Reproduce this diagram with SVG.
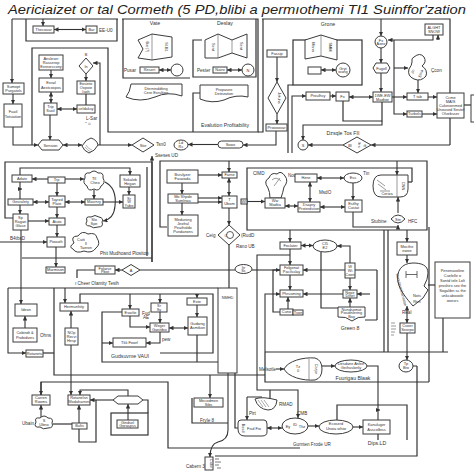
<svg xmlns="http://www.w3.org/2000/svg" width="474" height="474" viewBox="0 0 474 474">
<defs>
<marker id="a" viewBox="0 0 6 6" refX="6" refY="3" markerWidth="4.5" markerHeight="4.5" markerUnits="userSpaceOnUse" orient="auto-start-reverse"><path d="M0,0L6,3L0,6z" fill="#333"/></marker>
<style>
.bx{fill:#fff;stroke:#3c3c3c;stroke-width:1}
.ln{fill:none;stroke:#333;stroke-width:1.2}
.ar{fill:none;stroke:#333;stroke-width:1.1;marker-end:url(#a)}
.da{fill:none;stroke:#333;stroke-width:1.1;marker-end:url(#a);marker-start:url(#a)}
text{font-family:"Liberation Sans",Arial,sans-serif;fill:#333}
.t{font-size:3.9px;text-anchor:middle}
.lb{font-size:4.6px}
.lc{font-size:5.2px;text-anchor:middle}
.ti{font-size:13.5px;font-style:italic;fill:#222}
</style>
</defs>
<rect width="474" height="474" fill="#fff"/>
<text class="ti" x="237" y="14" text-anchor="middle" textLength="458" lengthAdjust="spacingAndGlyphs">Aericiaizet or tal Cormeth (5 PD,blibi a permıothemi TI1 Suinffor'zation</text>

<g id="frames">
<path class="ln" d="M12,19H118M26,19V41H117V19"/>
<path class="ln" d="M122,19H258V132H108V48H32V145"/>
<path class="ln" d="M123,19V78H190"/>
<path class="ln" d="M202,40H193V77H256V19"/>
<path class="ln" d="M193,132V93H200"/>
<path class="ln" d="M262,19H450V145"/>
<path class="ln" d="M263,19V132H258"/>
<rect x="293" y="40" width="69" height="45" fill="none" stroke="#333" stroke-width="1.2"/>
<path class="ln" d="M288,153V85H293"/>
<path class="ln" d="M13,218H5V162H152V262"/>
<path class="ln" d="M167,227H160V161H427V230H247V168H412V182"/>
<path class="ln" d="M147,167V256M22,258H152"/>
<path class="ln" d="M377,270V320M384,230V352M388,230V352M429,227V382"/>
<path class="ln" d="M265,352H448M265,352V382H429M443,318V352"/>
<path class="ln" d="M337,420V405H407V440"/>
<path class="ln" d="M417,366V456H215M413,366H417"/>
<path class="ln" d="M41,395V382H168V448H300"/>
<path class="ln" d="M54,288V375H265"/>
<path class="ln" d="M80,303V294H213V353H160"/>
<path class="ln" d="M102,343V362H218"/>
</g>

<g id="connectors">
<path class="ar" d="M43,19V26"/>
<path class="da" d="M54,29.5H86"/>
<path class="ar" d="M12,19V83"/>
<path class="ar" d="M13,94V104"/>
<path class="ar" d="M13,127V145H38"/>
<path class="ar" d="M51,70V78"/>
<path class="da" d="M51,92V103"/>
<path class="ar" d="M50,115V140"/>
<path class="da" d="M57,109H77"/>
<path class="ar" d="M86,74V81"/>
<path class="ln" d="M86,94V105"/>
<path class="ar" d="M100,145V63H93"/>
<path class="da" d="M63,145H82"/>
<path class="ar" d="M98,145H132"/>
<path class="ar" d="M218,144.5H188"/>
<path class="ar" d="M276,131V145H243"/>
<path class="da" d="M159,70H171"/>
<path class="da" d="M227,70H242"/>
<path class="ar" d="M277,57V82"/>
<path class="ar" d="M277,114V124"/>
<path class="da" d="M321,70H336"/>
<path class="ar" d="M381,19V36"/>
<path class="ar" d="M381,48V63"/>
<path class="ar" d="M381,73V92"/>
<path class="ar" d="M292,153V96H306"/>
<path class="ar" d="M330,96H336"/>
<path class="da" d="M349,97H373"/>
<path class="ar" d="M438,40V35"/>
<path class="ar" d="M433,35V40H388"/>
<path class="ar" d="M394,40V114H407"/>
<path class="ar" d="M394,68H408"/>
<path class="ar" d="M418,80V93"/>
<path class="ar" d="M392,97H407"/>
<path class="ar" d="M428,97H437"/>
<path class="ar" d="M422,114H437"/>
<path class="ln" d="M464,105H471"/>
<path class="ln" d="M343,101V121H382V102"/>
<path class="ar" d="M382,121V125H303V140"/>
<path class="ar" d="M343,145H308"/>
<path class="ar" d="M450,145H371"/>
<path class="ar" d="M152,262V156"/>
<path class="ar" d="M20,175V168H130V175"/>
<path class="ar" d="M48,179H32"/>
<path class="ar" d="M65,179H84"/>
<path class="ar" d="M20,182V199M18,189H22"/>
<path class="da" d="M33,202H49"/>
<path class="ar" d="M57,183V196"/>
<path class="da" d="M65,202H85"/>
<path class="ar" d="M94,190V199"/>
<path class="ar" d="M103,202H123"/>
<path class="ar" d="M129,187V195"/>
<path class="ar" d="M20,205V214"/>
<path class="ar" d="M28,221H49"/>
<path class="ar" d="M57,207V218"/>
<path class="ar" d="M57,225V237"/>
<path class="ar" d="M0,242H47"/>
<path class="ar" d="M56,247V267"/>
<path class="ar" d="M105,182Q117,188 115,206Q114,219 103,221"/>
<path class="ar" d="M122,270H115"/>
<path class="ln" d="M95,270H77V278"/>
<path class="ln" d="M140,270H235"/>
<path class="ar" d="M252,270H280"/>
<path class="ar" d="M21,230V304"/>
<path class="ar" d="M229,161V172"/>
<path class="ar" d="M198,175H222"/>
<path class="ar" d="M198,198H222"/>
<path class="ar" d="M198,202H222"/>
<path class="da" d="M229,178V196"/>
<path class="ar" d="M182,183V194"/>
<path class="ar" d="M182,203V215"/>
<path class="ar" d="M229,208V225"/>
<path class="ln" d="M229,245V288"/>
<path class="ar" d="M247,201.5H265"/>
<path class="da" d="M285,206H298"/>
<path class="da" d="M310,182V202"/>
<path class="da" d="M317,178H344"/>
<path class="da" d="M320,207H345"/>
<path class="ar" d="M353,183V200"/>
<path class="ar" d="M353,212V227H398V225"/>
<path class="ar" d="M398,213V197"/>
<path class="ar" d="M397,161V175"/>
<path class="ln" d="M408,182H412"/>
<path class="ar" d="M407,230V242"/>
<path class="ar" d="M407,255V263"/>
<path class="da" d="M407,323V306"/>
<path class="ln" d="M428,285H435"/>
<path class="ar" d="M407,333V360"/>
<path class="ar" d="M290,230V242"/>
<path class="da" d="M301,245.5H313"/>
<path class="ar" d="M290,249V265"/>
<path class="ar" d="M290,275V290"/>
<path class="ar" d="M288,309V297"/>
<path class="ln" d="M280,270H273V312H280"/>
<path class="ar" d="M265,352V294H280"/>
<path class="ar" d="M290,255H257V390H298V418"/>
<path class="ar" d="M350,263V246H337"/>
<path class="ar" d="M345,270H303"/>
<path class="ln" d="M355,270H377M377,320H365"/>
<path class="ar" d="M350,278V290"/>
<path class="ar" d="M343,294H303"/>
<path class="ar" d="M370,294H357"/>
<path class="ar" d="M350,307V298"/>
<path class="ln" d="M321,252V308H338"/>
<path class="ar" d="M276,369H284"/>
<path class="ar" d="M322,366H335"/>
<path class="ar" d="M367,366H378V420M376,410H380"/>
<path class="da" d="M267,428H282"/>
<path class="ar" d="M308,426H319"/>
<path class="ar" d="M353,427H363"/>
<path class="ln" d="M378,434V440"/>
<path class="ar" d="M247,397V420"/>
<path class="ln" d="M247,397H262M270,390V399"/>
<path class="ar" d="M210,375V398"/>
<path class="ar" d="M228,373V430Q228,440 218,442Q210,444 210,457"/>
<path class="ln" d="M235,373V428H238"/>
<path class="ln" d="M192,398V423H228"/>
<path class="ar" d="M25,328V316"/>
<path class="ar" d="M8,288V353H26"/>
<path class="ln" d="M8,288H218"/>
<path class="ln" d="M43,353H54"/>
<path class="ar" d="M71,328V311"/>
<path class="ar" d="M71,345V395"/>
<path class="ar" d="M41,382V395"/>
<path class="ar" d="M128,396V390H80V395"/>
<path class="ar" d="M113,400H90"/>
<path class="ar" d="M128,420V404"/>
<path class="ln" d="M143,400H148V413"/>
<path class="ar" d="M79,423V405"/>
<path class="ln" d="M53,424H72"/>
<path class="ar" d="M41,417V405"/>
<path class="ln" d="M79,429V442H96V400"/>
<path class="ar" d="M65,288V303"/>
<path class="ar" d="M130,294V309"/>
<path class="ar" d="M160,294V303"/>
<path class="ar" d="M197,294V298"/>
<path class="ar" d="M102,343H113"/>
<path class="ln" d="M102,343V312H122"/>
<path class="ar" d="M130,316V327H150"/>
<path class="ar" d="M160,312V323"/>
<path class="da" d="M169,328H188"/>
<path class="ar" d="M197,305V317"/>
<path class="ar" d="M160,332V343H146"/>
<path class="ln" d="M197,335V362"/>
</g>

<g id="n-thecouar"><rect class="bx" x="33" y="26" width="21" height="7"/><text class="t" x="43.5" y="31">Thecouar</text></g>
<g id="n-bar"><rect class="bx" x="86" y="26" width="11" height="7"/><text class="t" x="91.5" y="31">Bar</text><text class="lb" x="99" y="31.5" font-size="4">EE-U0</text></g>
<g id="n-sumopt"><rect class="bx" x="3" y="83" width="21" height="11"/><text class="t" x="13.5" y="88">Sumopt</text><text class="t" x="13.5" y="92.3">Purgatols</text></g>
<g id="n-fuatl"><rect class="bx" x="4" y="104" width="18" height="23"/><text class="t" x="13" y="113">Fuatl</text><text class="t" x="13" y="117.5">Totsiation</text></g>
<g id="n-ansleser"><rect class="bx" x="39" y="55" width="24" height="15"/><text class="t" x="51" y="59.5">Ansleser</text><text class="t" x="51" y="63.5">Rasserop</text><text class="t" x="51" y="67.5">Exreorccony</text></g>
<g id="n-exrail"><rect class="bx" x="39" y="78" width="24" height="14"/><text class="t" x="51" y="84">Exrail</text><text class="t" x="51" y="88.5">Aextcoxpos</text></g>
<g id="n-trip"><rect class="bx" x="44" y="103" width="13" height="12"/><text class="t" x="50.5" y="108">Trip</text><text class="t" x="50.5" y="112.3">Suxil</text></g>
<g id="n-celdaksy"><rect class="bx" x="77" y="105" width="18" height="8"/><text class="t" x="86" y="110.3">celdaksy</text><text class="lb" x="86" y="120" font-size="3.4">L-Sar</text><text class="lb" x="85" y="125" font-size="3.4">ᵔ ⌂</text></g>
<g id="n-eosinte"><rect class="bx" x="77" y="81" width="18" height="13"/><text class="t" x="86" y="85">Eosinte</text><text class="t" x="86" y="88.8">Oxpoie</text><text class="t" x="86" y="92.5">Isoh</text></g>
<g id="n-in"><polygon class="bx" points="86,58 93,66 86,74 79,66"/><text class="t" x="86" y="67.5">In</text><text class="t" x="86" y="56">B</text></g>
<g id="n-sension"><polygon class="bx" points="38,145 42,140 59,140 63,145 59,150 42,150"/><text class="t" x="50.5" y="146.5">Sension</text></g>
<g id="n-wavy"><path class="bx" d="M82,146Q86,139 91,138Q97,140 98,145Q95,151 89,153Q84,151 82,146Z"/><path fill="none" stroke="#666" stroke-width="0.5" d="M86,145Q88,149 92,150M85,147Q88,151 91,152"/></g>
<g id="n-stie"><polygon class="bx" points="132,145 143,138 154,145 143,152"/><text class="t" x="143" y="146.5">Stie</text><text class="lb" x="156" y="145.5" font-size="4.2">Tsn0</text><text class="lb" x="155" y="157" font-size="4.2">Sseses UD</text></g>
<g id="n-ldrc"><ellipse class="bx" cx="181" cy="145" rx="7" ry="5"/><text class="t" x="181" y="144">Ld</text><text class="t" x="181" y="148">Rc</text></g>
<g id="n-sowx"><rect class="bx" x="218" y="141" width="25" height="7" rx="3.5"/><text class="t" x="230.5" y="146">Sowx</text></g>

<g id="n-vate"><text class="lc" x="155" y="25">Vate</text><path class="bx" d="M138,40L152,34L172,37L172,57L152,60L138,58L143,49Z"/><path fill="none" stroke="#555" stroke-width="0.6" d="M152,34V60"/><text class="t" transform="translate(146,47) rotate(90)">Bar(7)</text><text class="t" transform="translate(165,47) rotate(90)">Sl.B1</text><text class="lb" x="124" y="71.5" font-size="4.2">Pusar</text><rect class="bx" x="140" y="67" width="19" height="6"/><text class="t" x="149.5" y="71.2">Resert</text><circle class="bx" cx="177" cy="70" r="6"/></g>
<g id="n-dterm"><path class="bx" d="M131,84H182V96Q168,91 155,97Q140,103 126,97Q130,92 131,84Z"/><text class="t" x="156" y="89.5">Dterninddting</text><text class="t" x="156" y="94">Cere Exrultion</text></g>
<g id="n-deslay"><text class="lc" x="225" y="25">Deslay</text><path class="bx" d="M205,40L218,34L232,40L247,34L247,58L232,53L218,58L205,58Z"/><path fill="none" stroke="#555" stroke-width="0.6" d="M218,34V58M232,40V53"/><text class="t" transform="translate(212,47) rotate(90)">Sent</text><text class="t" transform="translate(240,46) rotate(90)">Sent</text><text class="lb" x="197" y="71.5" font-size="4.2">Pester</text><rect class="bx" x="213" y="67" width="14" height="6"/><text class="t" x="220" y="71.2">Nairo</text><circle class="bx" cx="248" cy="70" r="6"/><text class="t" x="248" y="71.5">N</text></g>
<g id="n-propasee"><path class="bx" d="M200,85H248V97Q236,94 224,100Q212,104 200,99Z"/><text class="t" x="224" y="90.5">Propasee</text><text class="t" x="224" y="95">Detezation</text></g>
<text class="lc" x="225" y="127" font-size="5.3">Evalution Profitability</text>
<g id="n-fassip"><rect class="bx" x="267" y="50" width="20" height="7"/><text class="t" x="277" y="55">Fassip</text></g>
<g id="n-jetuhs"><polygon class="bx" points="277,82 286,98 277,114 268,98"/><text class="t" transform="translate(278,98) rotate(90)">Jetuhs</text></g>
<g id="n-proooovar"><rect class="bx" x="266" y="124" width="21" height="7"/><text class="t" x="276.5" y="129">Proooovar</text></g>
<g id="n-grone"><text class="lc" x="328" y="26">Grone</text><path class="bx" d="M305,40L321,35L337,40L337,60L321,56L305,59Z"/><path fill="none" stroke="#555" stroke-width="0.6" d="M321,35V56"/><text class="t" transform="translate(312,47) rotate(90)">Mann</text><text class="t" transform="translate(329,47) rotate(90)">SMM</text><rect class="bx" x="308" y="67" width="13" height="7"/><circle class="bx" cx="343" cy="70" r="7"/><text class="t" x="343" y="69.5">Gryt</text><text class="t" x="343" y="73">wang</text></g>
<g id="n-alght"><rect class="bx" x="425" y="24" width="18" height="11"/><text class="t" x="434" y="28.6" font-size="3.3">ALGHT</text><text class="t" x="434" y="33" font-size="3.3">SNOW</text></g>
<g id="n-fxaxeo"><circle class="bx" cx="381" cy="42" r="6"/><text class="t" x="381" y="41.5">Fx</text><text class="t" x="381" y="45">Axeo</text></g>
<g id="n-fugell"><polygon class="bx" points="373,68 376,63 387,63 390,68 387,73 376,73"/><text class="t" x="381.5" y="69.5">Fugell</text></g>
<g id="n-madre"><rect class="bx" x="373" y="92" width="19" height="10"/><text class="t" x="382.5" y="96.5">1WE-EW</text><text class="t" x="382.5" y="100.5">Madtoe</text></g>
<g id="n-proulhcy"><rect class="bx" x="306" y="92" width="24" height="8"/><text class="t" x="318" y="97.3">Proulhcy</text></g>
<g id="n-fx"><rect class="bx" x="336" y="92" width="13" height="9"/><text class="t" x="342.5" y="97.8">Fx</text></g>
<g id="n-ceon"><path class="bx" d="M414,57Q420,52 424,57Q427,62 422,66Q428,70 426,76Q421,82 414,79Q407,76 409,69Q412,65 412,62Q411,58 414,57Z"/><text class="t" transform="translate(414,72) rotate(-70)">Jn</text><text class="t" transform="translate(422,74) rotate(-70)">Ehia</text><text class="lb" x="431" y="72" font-size="5">Çcon</text></g>
<g id="n-ttab"><rect class="bx" x="407" y="93" width="21" height="7"/><text class="t" x="417.5" y="98">T tab</text></g>
<g id="n-turbels"><rect class="bx" x="407" y="111" width="15" height="6"/><text class="t" x="414.5" y="115.3">Turbels</text></g>
<g id="n-ccme"><rect class="bx" x="437" y="93" width="27" height="25"/><text class="t" x="450.5" y="98.5">Ccme</text><text class="t" x="450.5" y="102.5">MAIS</text><text class="t" x="450.5" y="106.5">Cukevonmed</text><text class="t" x="450.5" y="110.5">Unouved Sestef</text><text class="t" x="450.5" y="114.5">Olvebsser</text></g>
<g id="n-edge"><rect class="bx" x="471" y="95" width="8" height="27"/></g>
<g id="n-s"><circle class="bx" cx="303" cy="145" r="5"/><text class="t" x="303" y="146.5">S</text></g>
<g id="n-dzeqte"><polygon class="bx" points="343,145 357,137 371,145 357,153"/><text class="t" x="350" y="146.5" font-size="3.2">Bl</text><text class="t" transform="translate(358,145) rotate(90)" font-size="3.2">ltrs</text><text class="t" x="365" y="146.5" font-size="3.2">ilt</text><text class="lc" x="343" y="134.5" font-size="4.3">Dzsqle Tos FII</text></g>

<g id="n-adate"><rect class="bx" x="12" y="175" width="20" height="7"/><text class="t" x="22" y="180">Adate</text></g>
<g id="n-trp"><rect class="bx" x="48" y="177" width="17" height="6"/><text class="t" x="56.5" y="181.3">Trp</text></g>
<g id="n-cllcheo"><path class="bx" d="M85,178Q84,172 90,173Q94,169 98,173Q104,172 103,178Q106,183 101,186Q99,192 94,189Q88,192 87,186Q82,183 85,178Z"/><text class="t" x="94" y="180">Tll</text><text class="t" x="95" y="184">Cheo</text></g>
<g id="n-sokaleb"><rect class="bx" x="120" y="175" width="20" height="12"/><text class="t" x="130" y="180.5">Sokaleb</text><text class="t" x="130" y="184.5">Hegan</text></g>
<g id="n-gesralety"><rect class="bx" x="8" y="199" width="25" height="6"/><text class="t" x="20.5" y="203.3">Gesralety</text></g>
<g id="n-tayrzd"><rect class="bx" x="49" y="196" width="16" height="11"/><text class="t" x="57" y="200.5">Tayrzd</text><text class="t" x="57" y="204.5">Plate</text></g>
<g id="n-masrnry"><rect class="bx" x="85" y="199" width="18" height="6"/><text class="t" x="94" y="203.3">Masrnry</text></g>
<g id="n-shr"><rect class="bx" x="123" y="195" width="12" height="13"/><text class="t" x="129" y="199.5">Sr</text><text class="t" x="129" y="203">W</text><text class="t" x="129" y="206.5">Yubo</text></g>
<g id="n-sp"><rect class="bx" x="13" y="214" width="15" height="16"/><text class="t" x="20.5" y="219">Sp</text><text class="t" x="20.5" y="223">Ragan</text><text class="t" x="20.5" y="227">Glase</text><text class="lb" x="10" y="239.5" font-size="4.3">B4tbsD</text></g>
<g id="n-atuto"><rect class="bx" x="49" y="218" width="16" height="7"/><text class="t" x="57" y="222.8">Atuto</text></g>
<g id="n-piooath"><rect class="bx" x="47" y="237" width="18" height="10"/><text class="t" x="56" y="243.3">Piooath</text></g>
<g id="n-slospe"><path class="bx" d="M87,221Q85,216 91,217Q95,214 99,217Q104,218 102,222Q104,227 98,227Q93,229 90,226Q84,226 87,221Z"/><text class="t" x="94" y="221">Slo</text><text class="t" x="94" y="225">Spe</text></g>
<g id="n-cuiti"><path class="bx" d="M74,243Q70,236 78,236Q82,230 88,234Q96,232 97,238Q101,244 96,248Q92,254 84,251Q76,254 73,249Q68,247 74,243Z"/><text class="t" x="81" y="240.5">Cuiti</text><text class="t" x="86" y="245">Il</text><text class="t" x="86" y="249">Taeron</text><text class="lb" x="100" y="254.5" font-size="4.3">Phit Mudhoand Plositon</text></g>
<g id="n-marmison"><rect class="bx" x="46" y="267" width="19" height="6"/><text class="t" x="55.5" y="271.3">Marmison</text></g>
<g id="n-folarse"><rect class="bx" x="95" y="266" width="20" height="8"/><text class="t" x="105" y="269.5">Folarse</text><text class="t" x="105" y="273">Pbot</text><text class="lb" x="75" y="284.5" font-size="4.3">ı Cheer Olamity Tesih</text></g>
<g id="n-a"><polygon class="bx" points="122,270 131,264.5 140,270 131,275.5"/><text class="t" x="131" y="271.5">A</text></g>

<g id="n-bsrulyzer"><rect class="bx" x="167" y="170" width="31" height="13"/><text class="t" x="182.5" y="175.5">Bsrulyzer</text><text class="t" x="182.5" y="179.5">Fasowda</text></g>
<g id="n-farne"><rect class="bx" x="222" y="172" width="15" height="6"/><text class="t" x="229.5" y="176.3">Farne</text></g>
<g id="n-moshpde"><rect class="bx" x="168" y="194" width="30" height="9"/><text class="t" x="183" y="198">Mo Shpde</text><text class="t" x="183" y="201.5">Sumlnoa</text></g>
<g id="n-tubom"><rect class="bx" x="222" y="196" width="15" height="12"/><text class="t" x="229.5" y="201">T</text><text class="t" x="229.5" y="205">Ubom</text></g>
<g id="n-meduning"><rect class="bx" x="168" y="215" width="30" height="21"/><text class="t" x="183" y="221">Meduning</text><text class="t" x="183" y="225">Jeofral</text><text class="t" x="183" y="229">Peatholdo</text><text class="t" x="183" y="233">Pundanons</text></g>
<g id="n-ceig"><polygon class="bx" points="229,225 240,235 229,245 218,235"/><circle fill="none" stroke="#333" stroke-width="0.8" cx="230" cy="235" r="3.5"/><text class="t" x="226" y="236.5">C</text><text class="lb" x="206" y="237" font-size="4.3">Ceig</text><text class="lb" x="241" y="237" font-size="4.3">(RudD</text><text class="lb" x="236" y="248" font-size="4.3">Rano UB</text></g>
<g id="n-itrsc"><ellipse class="bx" cx="243.5" cy="269" rx="8.5" ry="4.5"/><text class="t" x="243.5" y="268.5">Itr</text><text class="t" x="243.5" y="272">Sc</text></g>

<g id="n-wi"><rect class="bx" x="241" y="199" width="6" height="5"/><text class="t" x="244" y="202.8" font-size="3">WI</text></g>
<g id="n-cmd"><path class="bx" d="M268,188Q263,181 269,178Q271,172 277,174Q281,170 285,176Q289,181 284,187Q283,192 281,198H270Q270,192 268,188Z"/><path fill="none" stroke="#555" stroke-width="0.6" d="M272,180Q276,176 281,181M274,186L280,178"/><text class="lb" x="253" y="175" font-size="4.3">ClMD</text><text class="lb" x="288" y="177" font-size="4">Noon</text></g>
<g id="n-wwmadtia"><rect class="bx" x="265" y="198" width="20" height="10"/><text class="t" x="275" y="202.3">Ww</text><text class="t" x="275" y="206.3">Madtia</text></g>
<g id="n-dsapry"><rect class="bx" x="298" y="202" width="22" height="10"/><text class="t" x="309" y="206.3">Dsapry</text><text class="t" x="309" y="210.3">Proterdstion</text></g>
<g id="n-hzne"><rect class="bx" x="295" y="174" width="22" height="8"/><text class="t" x="306" y="179.3">Hzne</text></g>
<g id="n-ess"><ellipse class="bx" cx="353" cy="178" rx="9" ry="5"/><text class="t" x="353" y="179.3">Ess</text><text class="lb" x="363" y="175" font-size="4.3">Tin</text><text class="lb" x="319" y="194" font-size="4.3">MsdO</text></g>
<g id="n-estlhy"><rect class="bx" x="345" y="200" width="17" height="12"/><text class="t" x="353.5" y="205">Estlhy</text><text class="t" x="353.5" y="209">Custat</text></g>
<g id="n-cnn"><path class="bx" d="M381,175H408V189Q408,197 400,197H381Q373,197 373,186Q373,175 381,175Z"/><path fill="none" stroke="#555" stroke-width="0.6" d="M397,175V197M377,180L385,186M378,184L386,190M380,191H390"/><text class="t" transform="translate(402,186) rotate(90)" font-size="3.2">CNN</text><text class="t" x="387" y="195" font-size="3">Ceriza</text></g>
<g id="n-ste"><path class="bx" d="M391,219Q398,211 405,219Q398,227 391,219Z"/><text class="t" x="398" y="220.5" font-size="3.3">Ste</text><text class="lb" x="371" y="223" font-size="4.3">Stubine</text><text class="lb" x="408" y="223" font-size="4.3">HFC</text></g>

<g id="n-mocthe"><rect class="bx" x="397" y="242" width="20" height="13"/><text class="t" x="407" y="248">Mocthe</text><text class="t" x="407" y="252" font-size="2.8">ewoe</text></g>
<g id="n-real"><path class="bx" d="M413,263C401,263 396,272 398,282C400,291 407,299 413,306L418,302L423,298L428,290L424,286Q428,279 428,273C428,265 421,263 413,263Z"/><path fill="none" stroke="#444" stroke-width="0.8" d="M406,271V278M406,274.5H417M417,271V278"/><text class="t" x="417" y="297" font-size="3">Nots</text><text class="t" x="417" y="303" font-size="3">Rtrn</text><text class="t" transform="translate(400,290) rotate(75)" font-size="2.8">Nonuliparoloinsabe</text><text class="lb" x="402" y="314" font-size="4.5">Real</text></g>
<g id="n-cvoer"><rect class="bx" x="400" y="323" width="15" height="10"/><text class="t" x="407.5" y="327.3">Cvoer</text><text class="t" x="407.5" y="331.3">Seorpo</text><path fill="none" stroke="#555" stroke-width="0.6" d="M391,323H395M391,326H396M391,329H396M391,332H395M391,335H394"/></g>
<g id="n-pene"><rect class="bx" x="435" y="262" width="35" height="56"/><text class="t" x="452.5" y="272">Penenuvoline</text><text class="t" x="452.5" y="277">Cuelelle o</text><text class="t" x="452.5" y="282">Sontd tele Lolt</text><text class="t" x="452.5" y="287">proshirx sex the</text><text class="t" x="452.5" y="292">Sogalibn ss the</text><text class="t" x="452.5" y="297">unkcabooole</text><text class="t" x="452.5" y="302">ooesrs</text></g>

<g id="n-foclater"><rect class="bx" x="280" y="242" width="21" height="7"/><text class="t" x="290.5" y="247">Foclater</text></g>
<g id="n-cl5"><ellipse class="bx" cx="325" cy="246" rx="12" ry="6"/><text class="t" x="325" y="245">Cl5</text><text class="t" x="325" y="249">E2</text></g>
<g id="n-folgonat"><rect class="bx" x="280" y="265" width="23" height="10"/><text class="t" x="291.5" y="269.3">Folgonat</text><text class="t" x="291.5" y="273.3">Pacilsslay</text></g>
<g id="n-phrusming"><rect class="bx" x="280" y="290" width="23" height="7"/><text class="t" x="291.5" y="294.8">Phrusming</text></g>
<g id="n-cuno"><rect class="bx" x="280" y="309" width="13" height="6"/><text class="t" x="286.5" y="313.2">Cuno</text><rect class="bx" x="293" y="310" width="10" height="5"/><text class="t" x="298" y="313.7" font-size="3">Tvon</text></g>
<g id="n-wwicoon"><rect class="bx" x="345" y="263" width="10" height="15"/><text class="t" x="350" y="268">W</text><text class="t" x="350" y="272">Wi</text><text class="t" x="350" y="276">Coon</text></g>
<g id="n-nepir"><rect class="bx" x="343" y="290" width="14" height="8"/><text class="t" x="350" y="293.5">Nepir</text><text class="t" x="350" y="297">Dihet</text></g>
<g id="n-nundsomat"><path class="bx" d="M338,307H365V317Q358,316 352,321Q346,316 338,317Z"/><text class="t" x="351.5" y="310.5" font-size="3.3">Nundsomat</text><text class="t" x="351.5" y="314" font-size="3.3">Posidnlering</text><text class="t" x="351.5" y="317.5" font-size="3.3">Bay</text><text class="lc" x="350" y="330" font-size="4.5">Green 8</text></g>

<g id="n-ideon"><rect class="bx" x="15" y="304" width="22" height="12"/><text class="t" x="26" y="311.3">Ideon</text></g>
<g id="n-cobindt"><rect class="bx" x="13" y="328" width="24" height="14"/><text class="t" x="25" y="334">Cobindt &amp;</text><text class="t" x="25" y="338.5">Probidizes</text><text class="lb" x="40" y="337" font-size="4.3">Ohns</text></g>
<g id="n-rotanets"><rect class="bx" x="26" y="350" width="17" height="7"/><text class="t" x="34.5" y="354.8">Rotanets</text></g>
<g id="n-hermunhity"><rect class="bx" x="60" y="303" width="28" height="8"/><text class="t" x="74" y="308.3">Hermunhity</text></g>
<g id="n-nop"><rect class="bx" x="65" y="328" width="13" height="17"/><text class="t" x="71.5" y="333.5">NOp</text><text class="t" x="71.5" y="337.5">Recvi</text><text class="t" x="71.5" y="341.5">Hesp</text></g>
<g id="n-evarlie"><rect class="bx" x="122" y="309" width="17" height="7"/><text class="t" x="130.5" y="313.8">Evarlie</text><text class="lb" x="142" y="314.5" font-size="4">Fud</text><text class="lb" x="143" y="319" font-size="4">AE</text></g>
<g id="n-srsy"><rect class="bx" x="151" y="303" width="16" height="9"/><text class="t" x="159" y="307">Sr</text><text class="t" x="159" y="310.8">Sy</text></g>
<g id="n-exte"><rect class="bx" x="187" y="298" width="20" height="7"/><text class="t" x="197" y="302.8">Exte</text></g>
<g id="n-nmhd"><rect class="bx" x="218" y="288" width="19" height="85"/><text class="t" x="227.5" y="299">NMHD</text></g>
<g id="n-weger"><rect class="bx" x="150" y="323" width="19" height="9"/><text class="t" x="159.5" y="327">Weger</text><text class="t" x="159.5" y="330.8">Ganitibix</text></g>
<g id="n-gudwng"><rect class="bx" x="188" y="317" width="19" height="18"/><text class="t" x="197.5" y="325">Gudwng</text><text class="t" x="197.5" y="329">Asmtkon</text></g>
<g id="n-tkk"><rect class="bx" x="113" y="338" width="33" height="9"/><text class="t" x="129.5" y="344">Tkk Fowrl</text><text class="lb" x="162" y="341" font-size="4">pew</text><text class="lc" x="130" y="358" font-size="4.5">Gudsuvme VAUl</text></g>
<g id="n-carren"><rect class="bx" x="32" y="395" width="18" height="10"/><text class="t" x="41" y="399.3">Carren</text><text class="t" x="41" y="403.3">Rooms</text></g>
<g id="n-rotanelsn"><rect class="bx" x="68" y="395" width="22" height="10"/><text class="t" x="79" y="399.3">Rotanelsn</text><text class="t" x="79" y="403.3">Wodaharnes</text></g>
<g id="n-hexa"><polygon class="bx" points="113,400 118,396 138,396 143,400 138,404 118,404"/></g>
<g id="n-gindsel"><rect fill="none" stroke="#333" stroke-width="1.2" x="111" y="413" width="37" height="22"/><rect class="bx" x="117" y="420" width="21" height="8"/><text class="t" x="127.5" y="423.5">Gindsel</text><text class="t" x="127.5" y="427">Goraspss</text></g>
<g id="n-bults"><rect class="bx" x="72" y="423" width="15" height="6"/><text class="t" x="79.5" y="427.3">Bults</text></g>
<g id="n-ubain"><path class="bx" d="M36,422Q34,417 40,418Q44,414 48,418Q54,418 52,423Q54,428 48,428Q43,430 40,427Q33,428 36,422Z"/><text class="t" x="44" y="421.5" font-size="3.2">S</text><text class="t" x="44" y="425.5" font-size="3.2">Ubno</text><text class="lb" x="22" y="424.5" font-size="4.3">Ubain</text></g>
<g id="n-mecodmen"><rect class="bx" x="194" y="398" width="29" height="9"/><text class="t" x="208.5" y="402">Mecodmen</text><text class="t" x="208.5" y="405.8">Sibs</text><text class="lb" x="200" y="422" font-size="4.3">Fryle 8</text></g>
<g id="n-cabin"><rect class="bx" x="205" y="457" width="8" height="13"/><text class="t" transform="translate(210,463.5) rotate(90)" font-size="3">Cabe</text><text class="lb" x="186" y="468" font-size="4.3">Cabern 3</text><path fill="none" stroke="#444" stroke-width="0.7" d="M215,459H219M215,462H221M215,465H219M217,468H221"/></g>
<g id="n-egg"><path class="bx" d="M284,369C288,361 303,357 315,358Q322,360 322,369Q322,378 315,380C303,381 288,377 284,369Z"/><path fill="none" stroke="#555" stroke-width="0.6" d="M309,359V380"/><text class="t" x="298" y="368">Tz</text><text class="t" x="298" y="372">0</text><text class="t" transform="translate(315,369) rotate(90)" font-size="3">Carjor</text><text class="lb" x="259" y="371" font-size="4.3">Melsotle</text></g>
<g id="n-desdane"><ellipse class="bx" cx="351" cy="366" rx="16" ry="6"/><text class="t" x="351" y="365">Desdane Anlee</text><text class="t" x="351" y="369">Geihuslonly</text><text class="lc" x="353" y="379.5" font-size="4.5">Fuurigau Blaak</text></g>
<g id="n-tpbro"><ellipse class="bx" cx="406" cy="366" rx="7" ry="6"/><text class="t" x="406" y="365">Tp</text><text class="t" x="406" y="369">Bro</text></g>
<g id="n-kanuluger"><rect class="bx" x="363" y="420" width="27" height="14"/><text class="t" x="376.5" y="426">Kanuluger</text><text class="t" x="376.5" y="430.5">Asscolbiss</text><text class="lc" x="377" y="445" font-size="4.5">Dips.LD</text></g>
<g id="n-ecoserd"><ellipse class="bx" cx="336" cy="427" rx="17" ry="7"/><text class="t" x="336" y="425">Ecoserd</text><text class="t" x="336" y="429.5" font-size="3">Unoia oihiw</text></g>
<g id="n-eyid"><ellipse class="bx" cx="295" cy="426" rx="13" ry="8"/><text class="t" x="288" y="428">Ey</text><text class="t" x="295" y="426">ID</text><text class="t" x="302" y="428">Thz</text><text class="lb" x="297" y="415" font-size="4.3">CMB</text><text class="lb" x="293" y="445.5" font-size="4.5">Gurnten Frode UR</text></g>
<g id="n-fisd"><path class="bx" d="M241,420H264Q267,420 267,424V432Q267,436 262,436H245Q238,436 238,429V423Q238,420 241,420Z"/><text class="t" x="254" y="430">Fisd Fio</text><text class="t" transform="translate(242,428) rotate(90)" font-size="3">Bssd</text></g>
<g id="n-rmad"><path class="bx" d="M255,399Q262,396 277,400Q276,410 268,410Q258,409 255,399Z"/><path fill="none" stroke="#555" stroke-width="0.5" d="M258,400L263,407M261,400L266,407M264,400L269,407"/><text class="lb" x="279" y="405.5" font-size="4.3">RMAD</text><text class="lb" x="249" y="415" font-size="4">Pirt</text></g>
</svg>
